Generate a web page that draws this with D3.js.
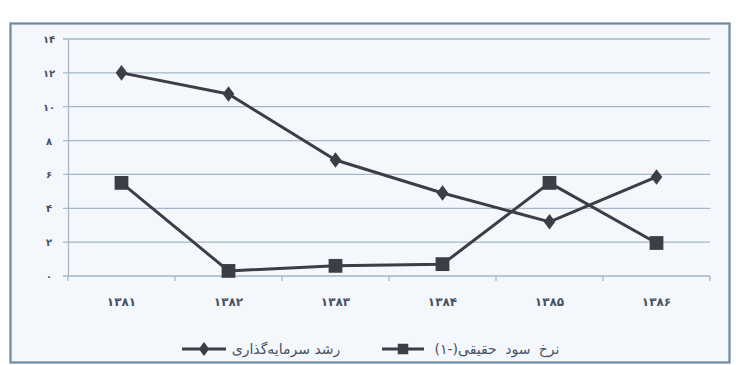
<!DOCTYPE html>
<html>
<head>
<meta charset="utf-8">
<script src="https://cdn.jsdelivr.net/npm/d3@7"></script>
<style>
  html, body { margin: 0; padding: 0; background: #ffffff; }
  svg { display: block; }
  text { font-family: "DejaVu Sans", sans-serif; }
</style>
</head>
<body>
<svg id="chart" width="736" height="365"></svg>
<script>
// Years (Persian calendar) on the x axis
const years = ["۱۳۸۱", "۱۳۸۲", "۱۳۸۳", "۱۳۸۴", "۱۳۸۵", "۱۳۸۶"];
// Investment growth (diamond markers)
const investmentGrowth = [12, 10.75, 6.85, 4.9, 3.2, 5.85];
// Real interest rate, lagged one year (square markers)
const realInterestRate = [5.5, 0.3, 0.6, 0.7, 5.5, 1.95];
// Y tick values and their labels
const yTicks = [0, 2, 4, 6, 8, 10, 12, 14];
const yTickLabels = ["۰", "۲", "۴", "۶", "۸", "۱۰", "۱۲", "۱۴"];
// Legend labels
const seriesNames = ["رشد سرمایه‌گذاری", "نرخ سود حقیقی(-۱)"];

const svg = d3.select("#chart");

const ink = "#3b3e45";
const gridColor = "#a6b7c9";
const frameColor = "#6f88a2";
const labelColor = "#465163";

// outer frame
svg.append("rect")
  .attr("x", 10.5).attr("y", 23.5)
  .attr("width", 719).attr("height", 339)
  .attr("fill", "#f4f7fb")
  .attr("stroke", frameColor)
  .attr("stroke-width", 2.2);

const plot = { left: 68, right: 710, top: 39, bottom: 276 };

const x = d3.scaleBand().domain(years).range([plot.left, plot.right]).paddingInner(0).paddingOuter(0);
const y = d3.scaleLinear().domain([0, 14]).range([plot.bottom, plot.top]);

// horizontal gridlines
svg.append("g")
  .selectAll("line")
  .data(yTicks)
  .join("line")
  .attr("x1", plot.left - 5).attr("x2", plot.right)
  .attr("y1", d => y(d)).attr("y2", d => y(d))
  .attr("stroke", gridColor)
  .attr("stroke-width", 1.3);

// y axis line
svg.append("line")
  .attr("x1", plot.left + 0.5).attr("x2", plot.left + 0.5)
  .attr("y1", plot.top).attr("y2", plot.bottom)
  .attr("stroke", gridColor).attr("stroke-width", 1.3);

// x axis tick marks at band edges
const edges = years.map(d => x(d)).concat([plot.right]);
svg.append("g")
  .selectAll("line")
  .data(edges)
  .join("line")
  .attr("x1", d => d).attr("x2", d => d)
  .attr("y1", plot.bottom).attr("y2", plot.bottom + 5)
  .attr("stroke", gridColor).attr("stroke-width", 1.3);

// y tick labels
svg.append("g")
  .selectAll("text")
  .data(yTicks)
  .join("text")
  .attr("x", 49)
  .attr("y", d => y(d) + 4)
  .attr("text-anchor", "middle")
  .attr("font-size", 10)
  .attr("font-weight", "bold")
  .attr("fill", labelColor)
  .text((d, i) => yTickLabels[i]);

// x tick labels
svg.append("g")
  .selectAll("text")
  .data(years)
  .join("text")
  .attr("x", d => x(d) + x.bandwidth() / 2)
  .attr("y", 306)
  .attr("text-anchor", "middle")
  .attr("font-size", 12)
  .attr("font-weight", "bold")
  .attr("letter-spacing", 1.5)
  .attr("fill", labelColor)
  .text(d => d);

const cx = d => x(d) + x.bandwidth() / 2;
const line = d3.line().x((v, i) => cx(years[i])).y(v => y(v));

const diamond = d3.symbol().type(d3.symbolDiamond).size(70);
const square = d3.symbol().type(d3.symbolSquare).size(190);

// investment growth series
svg.append("path")
  .attr("d", line(investmentGrowth))
  .attr("fill", "none").attr("stroke", ink).attr("stroke-width", 3)
  .attr("stroke-linejoin", "round");
svg.append("g")
  .selectAll("path")
  .data(investmentGrowth)
  .join("path")
  .attr("transform", (v, i) => `translate(${cx(years[i])},${y(v)}) scale(1.3,1)`)
  .attr("d", diamond)
  .attr("fill", ink);

// real interest rate series
svg.append("path")
  .attr("d", line(realInterestRate))
  .attr("fill", "none").attr("stroke", ink).attr("stroke-width", 3)
  .attr("stroke-linejoin", "round");
svg.append("g")
  .selectAll("path")
  .data(realInterestRate)
  .join("path")
  .attr("transform", (v, i) => `translate(${cx(years[i])},${y(v)})`)
  .attr("d", square)
  .attr("fill", ink);

// legend
const legend = svg.append("g");
const legendY = 349;
const legendItems = [
  { name: seriesNames[0], x1: 182, x2: 226, textX: 286, mark: diamond, sx: 1.3, size: 55, ws: 0 },
  { name: seriesNames[1], x1: 382, x2: 424, textX: 497, mark: square, sx: 1, size: 110, ws: 4 }
];
legendItems.forEach(it => {
  legend.append("line")
    .attr("x1", it.x1).attr("x2", it.x2)
    .attr("y1", legendY).attr("y2", legendY)
    .attr("stroke", ink).attr("stroke-width", 3);
  legend.append("path")
    .attr("transform", `translate(${(it.x1 + it.x2) / 2},${legendY}) scale(${it.sx},1)`)
    .attr("d", it.mark.size(it.size)())
    .attr("fill", ink);
  legend.append("text")
    .attr("x", it.textX).attr("y", legendY + 5)
    .attr("text-anchor", "middle")
    .attr("direction", "rtl")
    .attr("font-size", 14)
    .attr("word-spacing", it.ws)
    .attr("fill", labelColor)
    .text(it.name);
});
</script>
</body>
</html>
